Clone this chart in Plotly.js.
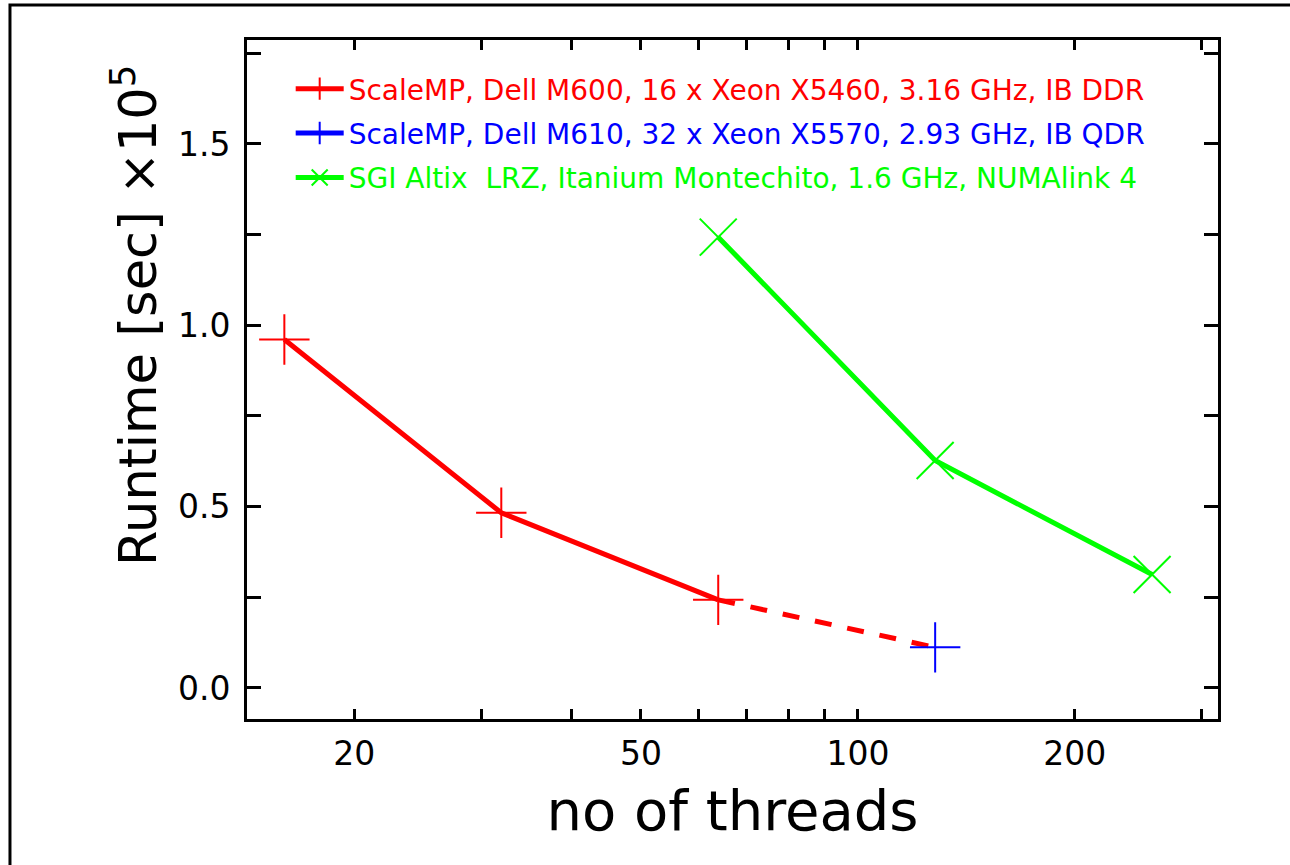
<!DOCTYPE html>
<html>
<head>
<meta charset="utf-8">
<script src="https://cdn.plot.ly/plotly-3.0.1.min.js"></script>
<style>html,body{margin:0;padding:0;background:#fff;}#chart{width:1290px;height:865px;}</style>
</head>
<body>
<div id="chart"></div>
<script>
// ---- data ----
const threadsM600 = [16, 32, 64];
const runtimeM600 = [0.961, 0.483, 0.243];
const threadsM610 = [128];
const runtimeM610 = [0.112];
const threadsAltix = [64, 128, 256];
const runtimeAltix = [1.243, 0.627, 0.313];

const nameM600 = "ScaleMP, Dell M600, 16 x Xeon X5460, 3.16 GHz, IB DDR";
const nameM610 = "ScaleMP, Dell M610, 32 x Xeon X5570, 2.93 GHz, IB QDR";
const nameAltix = "SGI Altix  LRZ, Itanium Montechito, 1.6 GHz, NUMAlink 4";

const xTickVals = [20, 50, 100, 200];
const xTickText = ["20", "50", "100", "200"];
const xMinorVals = [30, 40, 60, 70, 80, 90, 300];
const yTickVals = [0, 0.5, 1.0, 1.5];
const yTickText = ["0.0", "0.5", "1.0", "1.5"];
const yMinorVals = [0.25, 0.75, 1.25, 1.75];

const RED = "#ff0000", BLUE = "#0000ff", GREEN = "#00ff00";
const FONT = "DejaVu Sans, Liberation Sans, sans-serif";

function span(txt, col) { return '<span style="color:' + col + '">' + txt.replace(/  /g, "&nbsp; ") + '</span>'; }

const traces = [
  {
    x: threadsM600, y: runtimeM600, type: "scatter", mode: "lines+markers",
    name: span(nameM600, RED), legendgroup: "a",
    line: {color: RED, width: 5},
    marker: {symbol: "cross-thin", size: 36, color: RED, line: {color: RED, width: 2}}
  },
  {
    x: [threadsM600[threadsM600.length - 1], threadsM610[0]],
    y: [runtimeM600[runtimeM600.length - 1], runtimeM610[0]],
    type: "scatter", mode: "lines", showlegend: false, hoverinfo: "skip",
    line: {color: RED, width: 5, dash: "17px,16px"}
  },
  {
    x: threadsM610, y: runtimeM610, type: "scatter", mode: "lines+markers",
    name: span(nameM610, BLUE), legendgroup: "b",
    line: {color: BLUE, width: 5},
    marker: {symbol: "cross-thin", size: 36, color: BLUE, line: {color: BLUE, width: 2}}
  },
  {
    x: threadsAltix, y: runtimeAltix, type: "scatter", mode: "lines+markers",
    name: span(nameAltix, GREEN), legendgroup: "c",
    line: {color: GREEN, width: 5},
    marker: {symbol: "x-thin", size: 37, color: GREEN, line: {color: GREEN, width: 2}}
  }
];

const layout = {
  width: 1290, height: 865,
  paper_bgcolor: "#ffffff", plot_bgcolor: "#ffffff",
  margin: {l: 247, r: 72, t: 40, b: 146, pad: 0},
  font: {family: FONT, color: "#000000"},
  showlegend: true,
  legend: {
    x: 0.045, y: 0.9647, xanchor: "left", yanchor: "top",
    bgcolor: "rgba(0,0,0,0)", borderwidth: 0,
    font: {family: FONT, size: 28},
    tracegroupgap: 5, itemwidth: 48
  },
  xaxis: {
    type: "log", range: [Math.log10(14.2), Math.log10(316)],
    showline: true, linewidth: 3, linecolor: "#000", mirror: "allticks",
    ticks: "inside", ticklen: 10, tickwidth: 3, tickcolor: "#000",
    tickvals: xTickVals, ticktext: xTickText,
    minor: {tickvals: xMinorVals, ticks: "inside", ticklen: 10, tickwidth: 3, tickcolor: "#000", showgrid: false},
    tickfont: {size: 33, family: FONT}, ticklabelstandoff: 3,
    showgrid: false, zeroline: false,
    title: {text: "no of threads", font: {size: 56, family: FONT}, standoff: 20}
  },
  yaxis: {
    range: [-0.0855, 1.7866],
    showline: true, linewidth: 3, linecolor: "#000", mirror: "allticks",
    ticks: "inside", ticklen: 14, tickwidth: 3, tickcolor: "#000",
    tickvals: yTickVals, ticktext: yTickText,
    minor: {tickvals: yMinorVals, ticks: "inside", ticklen: 14, tickwidth: 3, tickcolor: "#000", showgrid: false},
    tickfont: {size: 33, family: FONT}, ticklabelstandoff: 7,
    showgrid: false, zeroline: false
  },
  annotations: [
    {text: "Runtime [sec] ×10<sup>5</sup>", xref: "paper", yref: "paper",
     x: -0.1153, y: 0.595, xanchor: "center", yanchor: "middle", textangle: -90,
     showarrow: false, font: {size: 51, family: FONT, color: "#000"}}
  ],
  shapes: [
    {type: "rect", xref: "paper", yref: "paper", x0: -0.2441, x1: 1.3, y0: -0.5, y1: 1.0515,
     line: {color: "#000", width: 3}, fillcolor: "rgba(0,0,0,0)", layer: "below"}
  ]
};

Plotly.newPlot("chart", traces, layout, {displayModeBar: false, staticPlot: true});
</script>
</body>
</html>
